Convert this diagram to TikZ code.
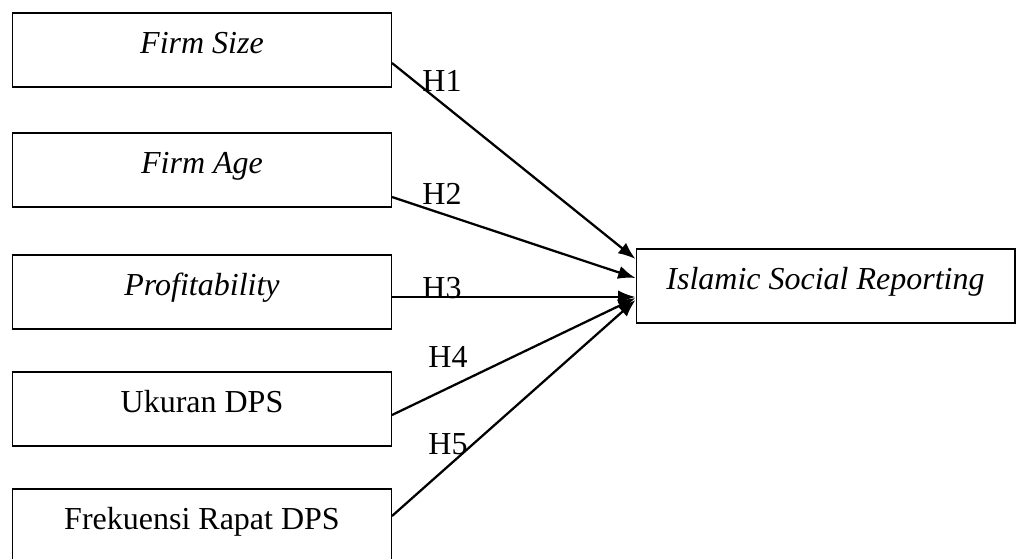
\documentclass[tikz,border=0pt]{standalone}
\usepackage{fontspec}
\setmainfont{Liberation Serif}
\usetikzlibrary{arrows.meta}
\usetikzlibrary{calc}

\begin{document}
\begin{tikzpicture}[x=0.75pt,y=-0.75pt,
  var/.style={draw,line width=1pt,minimum width=284pt,inner xsep=0pt,inner ysep=0pt,
    text height=30.5pt,text depth=25pt,font=\fontsize{24}{28}\selectfont},
  hyp/.style={font=\fontsize{24}{28}\selectfont},
  arr/.style={line width=1.7pt,-{Latex[length=13pt,width=10pt]}}]
\useasboundingbox (0,0) rectangle (1017,558);
\clip (0,0) rectangle (1017,558);

\node[var] (fsize) at (202,50) {\textit{Firm Size}};
\node[var] (fage) at (202,170) {\textit{Firm Age}};
\node[var] (profit) at (202,292) {\textit{Profitability}};
\node[var] (ukuran) at (202,409) {Ukuran DPS};
\node[var] (frek) at (202,526) {Frekuensi Rapat DPS};
\node[var] (isr) at (825.5,286) {\textit{Islamic Social Reporting}};

\node[hyp] (h1) at (442,81) {H1};
\node[hyp] (h2) at (442,194) {H2};
\node[hyp] (h3) at (442,288) {H3};
\node[hyp] (h4) at (448,357) {H4};
\node[hyp] (h5) at (448,444) {H5};

\draw[arr] ($(fsize.east)+(0,13)$) -- ($(isr.west)+(0,-27)$);
\draw[arr] ($(fage.east)+(0,27)$) -- ($(isr.west)+(0,-8)$);
\draw[arr] ($(profit.east)+(0,5)$) -- ($(isr.west)+(0,11)$);
\draw[arr] ($(ukuran.east)+(0,6)$) -- ($(isr.west)+(0,12)$);
\draw[arr] ($(frek.east)+(0,-10)$) -- ($(isr.west)+(0,14)$);
\end{tikzpicture}
\end{document}
